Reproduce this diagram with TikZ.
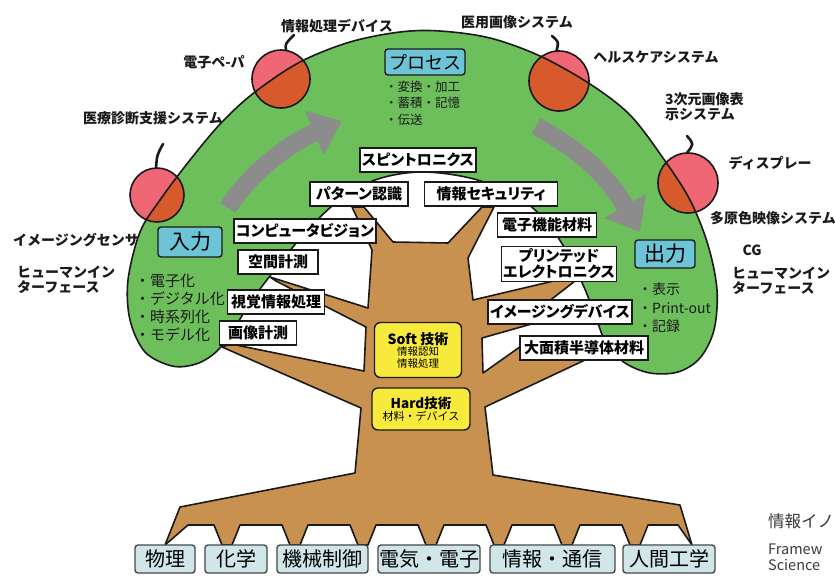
\documentclass[tikz,border=0pt]{standalone}
\usepackage{fontspec}
\setmainfont{Noto Sans CJK JP}
\newfontfamily\jpprop{Noto Sans CJK JP}[RawFeature=+palt]
\usepackage{tikz}
\usetikzlibrary{arrows.meta}

\definecolor{leafgreen}{HTML}{6DBF5B}
\definecolor{barkbrown}{HTML}{C8914F}
\definecolor{applepink}{HTML}{EF6674}
\definecolor{applered}{HTML}{D65A2C}
\definecolor{flowgray}{HTML}{8C8C8C}
\definecolor{stagecyan}{HTML}{6CC4D6}
\definecolor{techyellow}{HTML}{F7EA3C}
\definecolor{rootblue}{HTML}{D0E6E8}
\definecolor{inkdark}{HTML}{1A1A1A}
\definecolor{inknote}{HTML}{3A3A3A}

% apples sitting on the rim of the canopy: name/x/y/radius
\def\applelist{apA/157/195/27, apB/281/79/29, apC/559/81/30, apD/688/183/30}

\begin{document}
\begin{tikzpicture}[x=1pt, y=-1pt,
  canopy/.style={insert path={plot[smooth cycle, tension=0.55] coordinates {
    (172,366) (145,352) (130,320) (128,280) (140,232) (160,200) (190,160)
    (222,122) (255,92) (300,62) (350,42) (400,32) (440,31) (490,38)
    (540,56) (590,84) (630,115) (663,158) (690,200) (708,245) (717,290)
    (714,330) (700,358) (678,372) (650,373) (625,363) (607,345)
    (596,318) (584,287) (567,252) (545,220) (515,195) (470,178) (420,172)
    (375,180) (337,202) (305,233) (277,267) (252,300) (233,330) (216,352)
    (196,364)}}},
  rim/.style={draw=inkdark, line width=1.6pt},
  apple/.style={circle, fill=applepink, inner sep=0pt},
  stem/.style={draw=inkdark, line width=2.6pt, line cap=round},
  flow/.style={draw=flowgray, line width=18pt, -{Triangle[width=46pt, length=30pt]}},
  bark/.style={fill=barkbrown, draw=inkdark, line width=1.6pt, line join=round},
  tag/.style={draw=inkdark, fill=white, line width=1.4pt, inner sep=2pt, minimum height=24pt,
    font=\jpprop\bfseries\fontsize{15}{16}\selectfont},
  stage/.style={draw=inkdark, fill=stagecyan, rounded corners=3pt, line width=1.4pt, inner sep=1pt},
  tech/.style={draw=inkdark, fill=techyellow, rounded corners=6pt, line width=1.4pt, align=center, inner sep=2pt},
  field/.style={draw=inkdark!80, fill=rootblue, rounded corners=3pt, line width=1.4pt,
    minimum height=28pt, inner sep=1pt, font=\fontsize{20}{22}\selectfont},
  lbl/.style={inner sep=0pt, text=inkdark, font=\bfseries\fontsize{14}{15}\selectfont},
  bullets/.style={inner sep=0pt, align=left, anchor=west, text=inkdark}
]
\useasboundingbox (0,0) rectangle (835,576);
\fill[white] (0,0) rectangle (835,576);

% ---- canopy ----
\fill[leafgreen, canopy];

% apples: pink outside the canopy, darker where they overlap it
\foreach \n/\x/\y/\r in \applelist {
  \node[apple, minimum size=2*\r] (\n) at (\x,\y) {};
}
\begin{scope}
  \clip[canopy];
  \foreach \n/\x/\y/\r in \applelist {
    \fill[applered] (\x,\y) circle[radius=\r pt];
  }
\end{scope}
\draw[rim, canopy];
\foreach \n/\x/\y/\r in \applelist {
  \draw[rim] (\n.center) circle[radius=\r pt];
}

% stems
\coordinate (tipA) at (163,144);
\coordinate (tipB) at (294,35);
\coordinate (tipC) at (552,36);
\coordinate (tipD) at (687,136);
\draw[stem] (apA.92) .. controls (157,155) .. (tipA);
\draw[stem] (apB.80) .. controls (285,44) .. (tipB);
\draw[stem] (apC.95) .. controls (559,42) .. (tipC);
\draw[stem] (apD.92) .. controls (694,144) .. (tipD);

% ---- flow arrows: input -> process -> output ----
\draw[flow] (228,208) .. controls (250,172) and (290,143) .. (342,121);
\draw[flow] (536,126) .. controls (568,144) and (602,166) .. (640,232);

% ---- tree: trunk, branches and roots ----
\filldraw[bark] (165,545) -- (180,507) -- (355,473) -- (361,408)
  -- (222,347) -- (231,344) -- (364,371) -- (366,327)
  -- (276,281) -- (270,277) -- (368,308) -- (372,250)
  -- (352,207) -- (364,207) -- (393,242) -- (448,243) -- (482,207) -- (494,207)
  -- (468,258) -- (473,300) -- (562,279) -- (575,281) -- (548,302)
  -- (600,312) -- (535,323) -- (482,338) -- (483,373)
  -- (524,344) -- (592,350) -- (585,360) -- (485,407)
  -- (493,475) -- (680,505) -- (692,545) -- (678,525)
  foreach \p in {630,562,494,426,358,290,222} {
    -- (\p+18,525) -- (\p+10,545) -- (\p,545) -- (\p-8,525)
  } -- (188,525) -- cycle;

% ---- technology boxes on the branches ----
\foreach \n/\x/\y/\w/\t in {
    spin/418/160/110/スピントロニクス,
    patt/359/194/98/パターン認識,
    secu/491/194/133/情報セキュリティ,
    cvis/305/231/135/コンピュータビジョン,
    spat/278/262/80/空間計測,
    visu/276/302/97/視覚情報処理,
    imgm/258/333/77/画像計測,
    emat/547/225/99/電子機能材料,
    imdv/560/312/140/イメージングデバイス,
    larg/584/348/128/大面積半導体材料} {
  \node[tag, minimum width=\w] (\n) at (\x,\y) {\t};
}
\node[tag, minimum width=115, minimum height=35, align=center] (prnt) at (559,264)
  {プリンテッド\\エレクトロニクス};

% ---- trunk: soft / hard ----
\node[tech, minimum width=87, minimum height=55] (soft) at (418,350)
  {{\bfseries\fontsize{14}{16}\selectfont Soft 技術}\\[-1pt]
   {\fontsize{10.5}{13}\selectfont 情報認知}\\{\fontsize{10.5}{13}\selectfont 情報処理}};
\node[tech, minimum width=98, minimum height=42] (hard) at (421,409)
  {{\bfseries\fontsize{13.5}{16}\selectfont Hard技術}\\{\fontsize{11}{13}\selectfont 材料・デバイス}};

% ---- stages ----
\node[stage, minimum width=64, minimum height=30, font=\fontsize{21}{22}\selectfont] (inp) at (190,242) {入力};
\node[stage, minimum width=80, minimum height=26, font=\fontsize{18}{19}\selectfont] (proc) at (425,62) {プロセス};
\node[stage, minimum width=60, minimum height=28, font=\fontsize{21}{22}\selectfont] (outp) at (665,254) {出力};

\node[bullets, font=\fontsize{15}{18}\selectfont] (inpList) at (135,308)
  {・電子化\\・デジタル化\\・時系列化\\・モデル化};
\node[bullets, font=\fontsize{12.5}{16.5}\selectfont] (procList) at (385,103)
  {・変換・加工\\・蓄積・記憶\\・伝送};
\node[bullets, font=\fontsize{14}{18.5}\selectfont] (outpList) at (638,308)
  {・表示\\・Print-out\\・記録};

% ---- application labels round the canopy ----
\node[lbl] (lbDevice) at (337,26) {情報処理デバイス};
\node[lbl] (lbPaper) at (214,62) {電子ペ-パ};
\node[lbl] (lbDiag) at (153,118) {医療診断支援システム};
\node[lbl] (lbMedImg) at (517,22) {医用画像システム};
\node[lbl] (lbHealth) at (656,57) {ヘルスケアシステム};
\node[lbl, align=left, anchor=west] (lb3d) at (665,107) {3次元画像表\\示システム};
\node[lbl] (lbDisp) at (770,163) {ディスプレー};
\node[lbl] (lbMulti) at (773,218) {多原色映像システム};
\node[lbl] (lbCG) at (752,250) {CG};
\node[lbl, align=left, anchor=west] (lbHmiR) at (732,281) {ヒューマンイン\\ターフェース};
\node[lbl, anchor=west] (lbSensor) at (13,240) {イメージングセンサ};
\node[lbl, align=left, anchor=west] (lbHmiL) at (17,280) {ヒューマンイン\\ターフェース};

% ---- roots: base disciplines ----
\foreach \n/\x/\w/\t in {phys/165/60/物理, chem/236/62/化学, mech/322.5/91/機械制御,
    elec/429/102/電気・電子, info/552.5/125/情報・通信, human/669/92/人間工学} {
  \node[field, minimum width=\w] (\n) at (\x,559) {\t};
}

% ---- caption at the lower right ----
\node[inner sep=0pt, anchor=west, text=inknote, font=\fontsize{16.5}{18}\selectfont] (capJp) at (768,521) {情報イノ};
\node[inner sep=0pt, anchor=west, align=left, text=inknote, font=\fontsize{14.5}{16}\selectfont] (capEn) at (768,557) {Framew\\Science};
\end{tikzpicture}
\end{document}
